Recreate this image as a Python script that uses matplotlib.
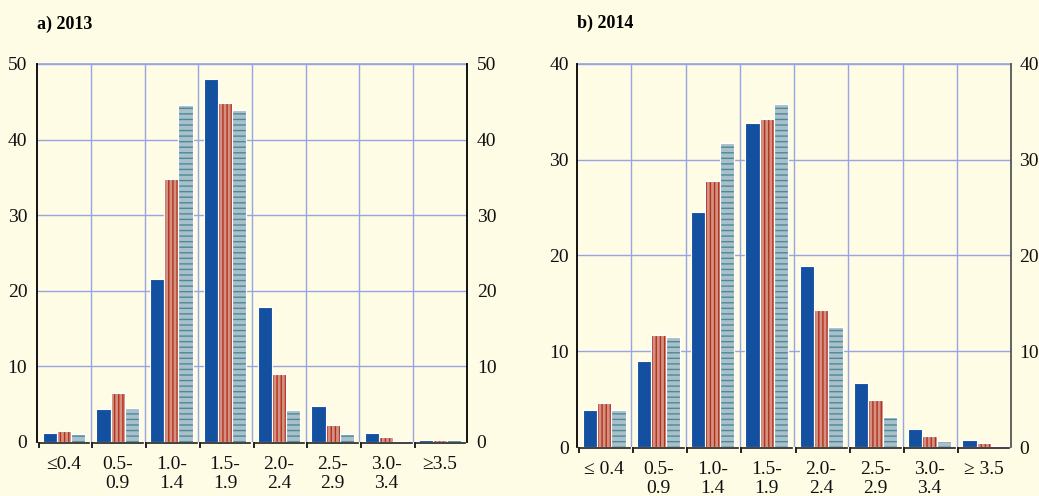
import numpy as np
import matplotlib
matplotlib.use('Agg')
import matplotlib.pyplot as plt
import matplotlib.transforms as mtransforms

plt.rcParams['font.family'] = ['Liberation Serif', 'DejaVu Serif']
plt.rcParams['hatch.linewidth'] = 1.0

# ─── data ─────────────────────────────────────────────
labels_a = ['≤0.4', '0.5-\n0.9', '1.0-\n1.4', '1.5-\n1.9', '2.0-\n2.4',
            '2.5-\n2.9', '3.0-\n3.4', '≥3.5']
labels_b = ['≤ 0.4', '0.5-\n0.9', '1.0-\n1.4', '1.5-\n1.9', '2.0-\n2.4',
            '2.5-\n2.9', '3.0-\n3.4', '≥ 3.5']

a_blue = [1.2, 4.4, 21.6, 48.0, 17.9, 4.7, 1.2, 0.3]
a_red  = [1.5, 6.5, 34.8, 44.8, 9.0, 2.2, 0.6, 0.25]
a_gray = [1.0, 4.5, 44.6, 43.9, 4.2, 1.1, 0.1, 0.2]

b_blue = [3.9, 9.0, 24.5, 33.8, 18.9, 6.7, 1.9, 0.75]
b_red  = [4.6, 11.7, 27.8, 34.3, 14.3, 4.9, 1.2, 0.45]
b_gray = [3.9, 11.5, 31.7, 35.8, 12.5, 3.1, 0.6, 0.1]

BG = '#fefce5'
GRID = '#97a5e2'
BLUE = '#1350a0'
RED_FILL, RED_LINE = '#d4917f', '#b2301f'
GRAY_FILL, GRAY_LINE = '#a9bfc9', '#4b8a98'

fig = plt.figure(figsize=(10.39, 4.96), dpi=100, facecolor=BG)
ax_a = fig.add_axes([37 / 1039, 1 - 442 / 496, 430 / 1039, 378 / 496])
ax_b = fig.add_axes([577 / 1039, 1 - 447 / 496, 434 / 1039, 383 / 496])


def panel(ax, title, labels, blue, red, gray, ymax, step, rcol, pad):
    ax.set_facecolor(BG)
    n = len(labels)
    x = np.arange(n)
    w = 0.265
    ax.bar(x - w, blue, w, color=BLUE, edgecolor='white', lw=0.8, zorder=3)
    ax.bar(x, red, w, color=RED_FILL, edgecolor=RED_LINE, lw=0,
           hatch='||||', zorder=3)
    ax.bar(x, red, w, fill=False, edgecolor='white', lw=0.8, zorder=4)
    ax.bar(x + w, gray, w, color=GRAY_FILL, edgecolor=GRAY_LINE, lw=0,
           hatch='---', zorder=3)
    ax.bar(x + w, gray, w, fill=False, edgecolor='white', lw=0.8, zorder=4)

    ax.set_xlim(-0.5, n - 0.5)
    ax.set_ylim(0, ymax)
    yt = np.arange(0, ymax + 1, step)
    ax.set_yticks(yt)
    ax.set_yticklabels([str(v) for v in yt])
    for v in yt[1:]:
        ax.axhline(v, color=GRID, lw=1, zorder=1)
    for b in np.arange(0.5, n - 0.5, 1):
        ax.axvline(b, color=GRID, lw=1, zorder=1)
    ax.tick_params(axis='y', left=False, right=True, labelleft=True,
                   labelright=True, length=0, pad=pad, labelsize=14,
                   colors='#111111')
    ax.set_xticks(x)
    ax.set_xticklabels(labels, fontsize=14, linespacing=1.2, va='top')
    ax.tick_params(axis='x', length=0, pad=10, colors='#111111')
    for s in ['top', 'bottom']:
        ax.spines[s].set_visible(False)
    ax.spines['left'].set_color('black')
    ax.spines['right'].set_color(rcol)
    ax.spines['left'].set_linewidth(1.3)
    ax.spines['right'].set_linewidth(1.3)
    ax.axhline(ymax, color=GRID, lw=1.2, zorder=1, clip_on=False)

    # segmented baseline with small down-ticks per group
    tr = mtransforms.blended_transform_factory(ax.transData, ax.transAxes)
    for i in range(n):
        x0, x1 = i - 0.47, i + 0.47
        ax.plot([x0, x1], [-0.003, -0.003], color='#222222', lw=1.2,
                transform=tr, clip_on=False, zorder=5)
        ax.plot([x0, x0], [-0.003, -0.014], color='#222222', lw=1.4,
                transform=tr, clip_on=False, zorder=5)
    ax.text(0, 1.105, title, transform=ax.transAxes, fontsize=13,
            fontweight='bold', ha='left', va='center')


panel(ax_a, 'a) 2013', labels_a, a_blue, a_red, a_gray, 50, 10, 'black', 7)
panel(ax_b, 'b) 2014', labels_b, b_blue, b_red, b_gray, 40, 10, '#555555', 6)

fig.savefig('out.png', dpi=100, facecolor=BG)
